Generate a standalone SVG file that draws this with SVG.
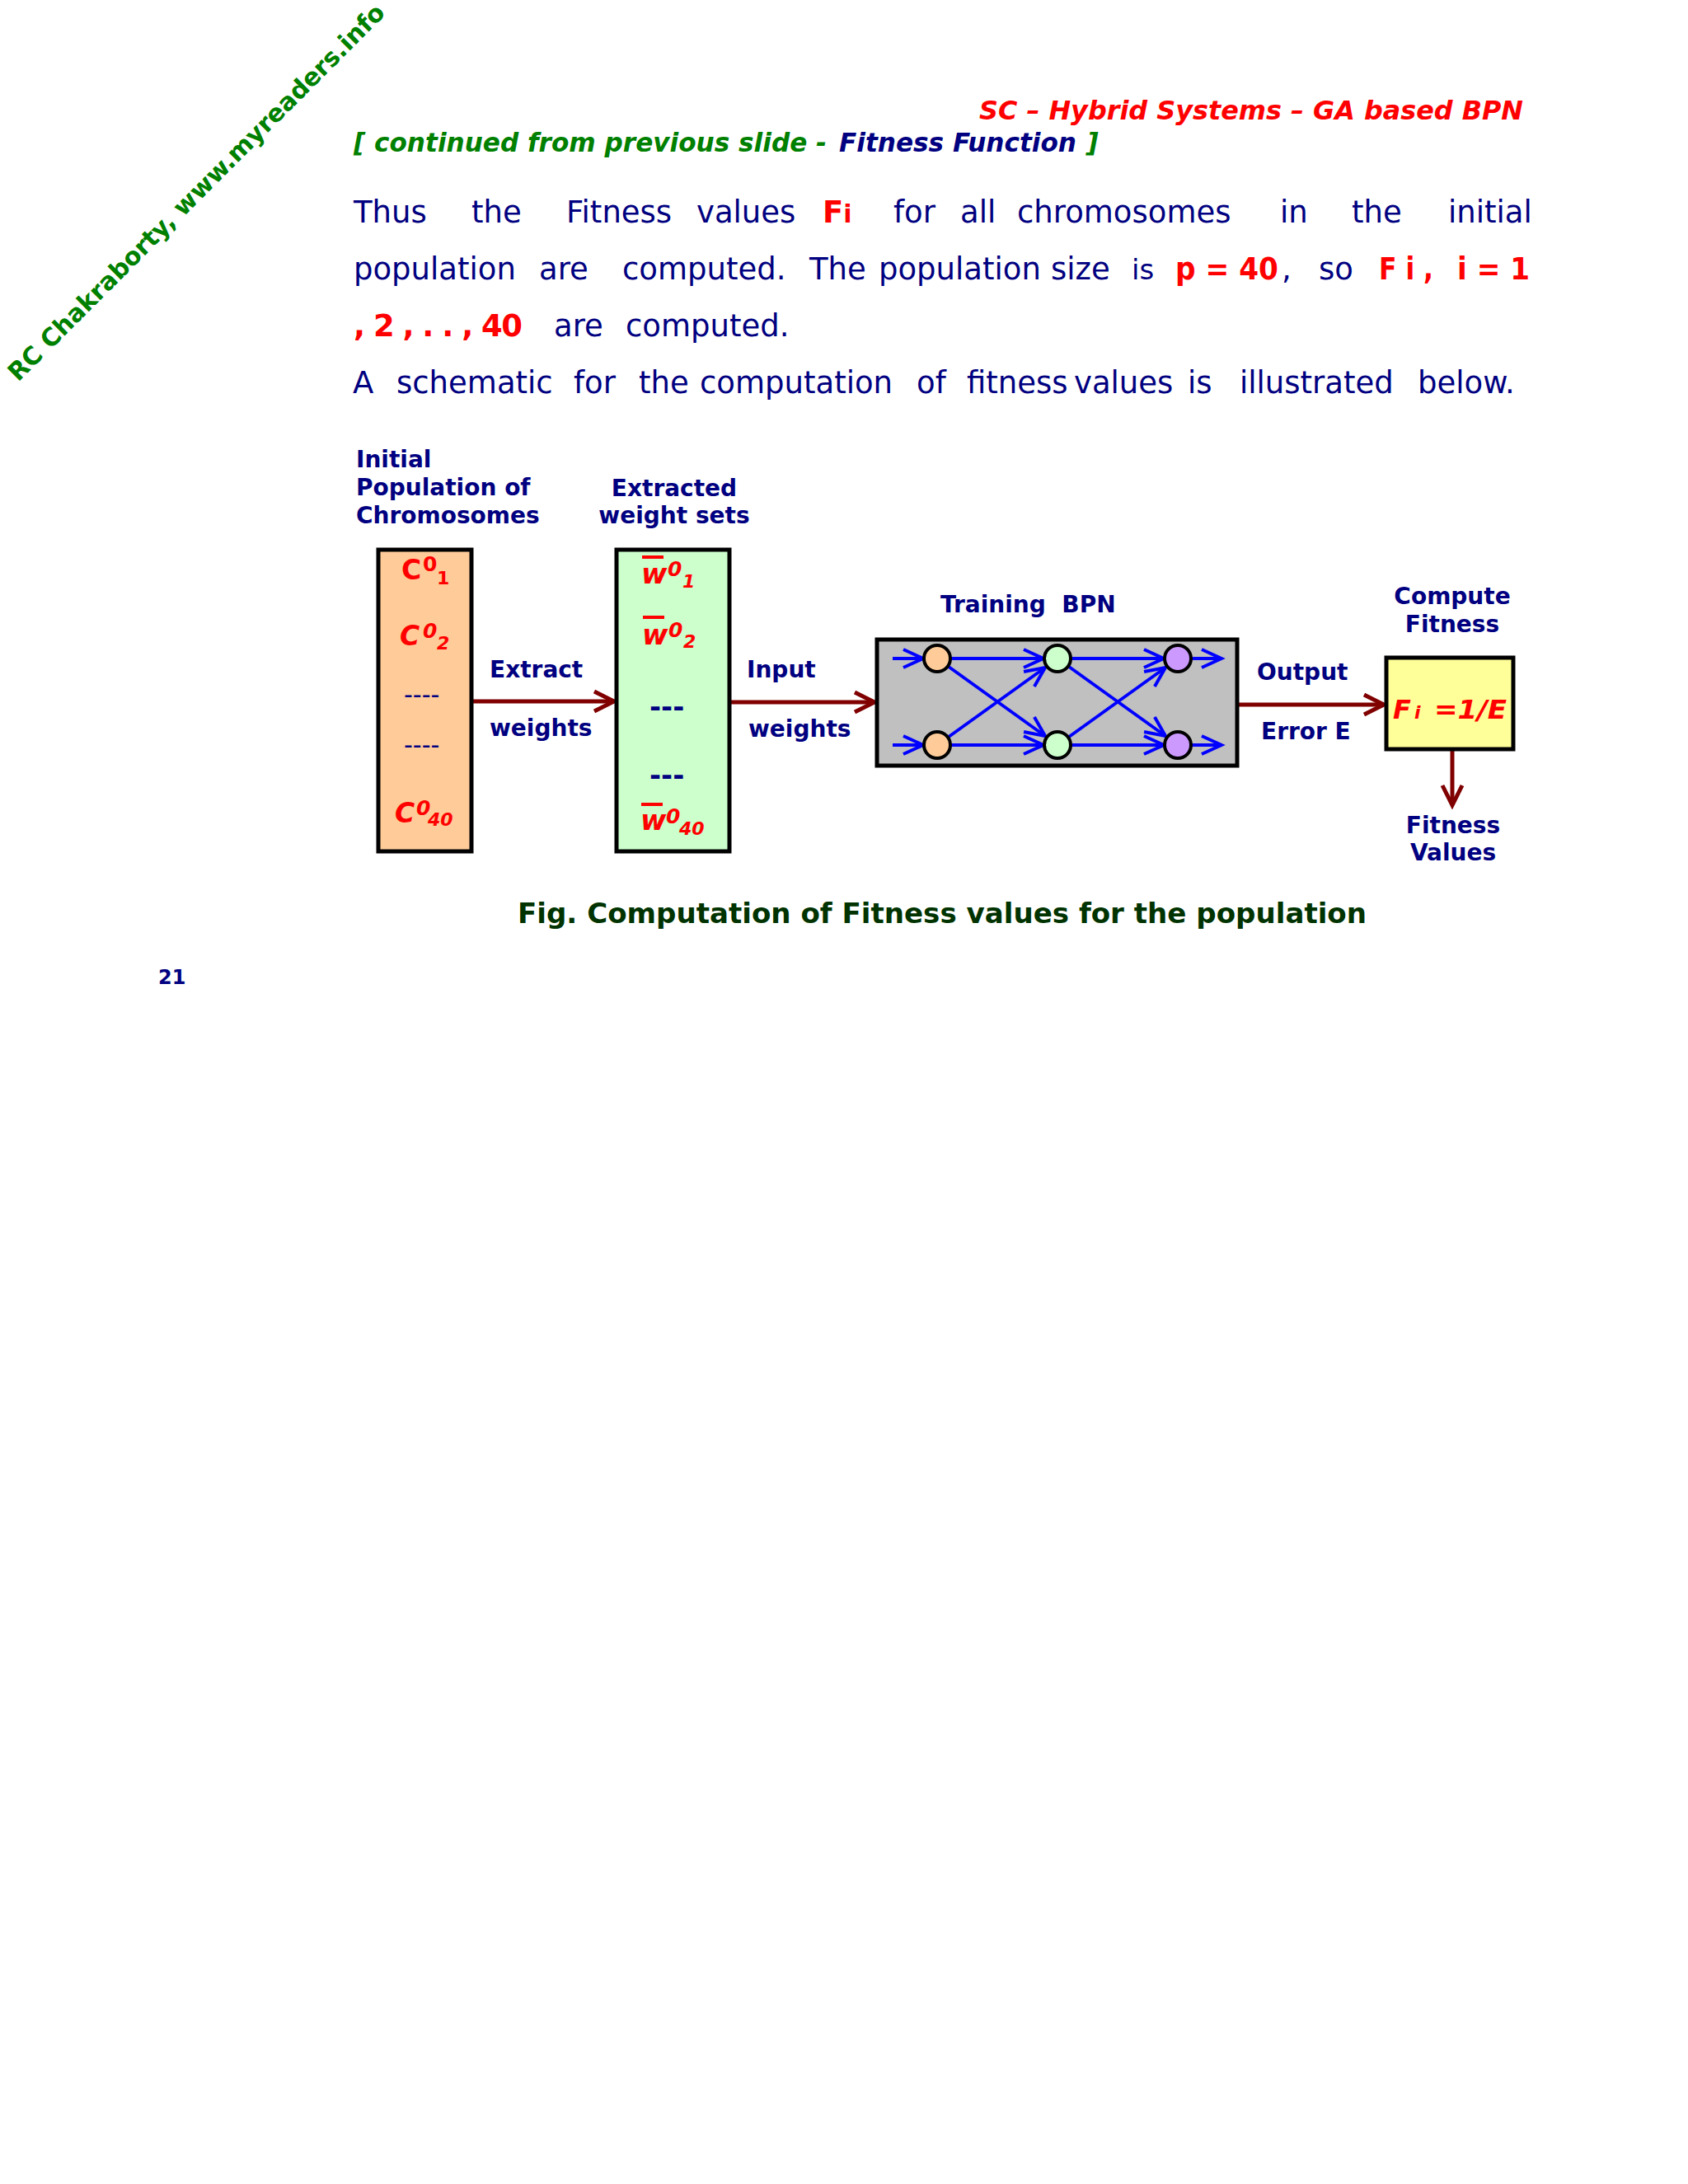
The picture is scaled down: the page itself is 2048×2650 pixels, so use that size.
<svg xmlns="http://www.w3.org/2000/svg" width="2048" height="2650" viewBox="0 0 2048 2650">
<defs>
<style>
text{font-family:"DejaVu Sans","Verdana","Liberation Sans",sans-serif}
.nv{fill:#000080}
.rd{fill:#FF0000}
.gr{fill:#008000}
.b{font-weight:bold}
.it{font-style:italic}
.body{font-size:37px;fill:#000080}
.lbl{font-size:28px;font-weight:bold;fill:#000080}
.sym{font-weight:bold;fill:#FF0000}
.box{stroke:#000;stroke-width:5}
.node{stroke:#000;stroke-width:4}
.red{stroke:#800000;stroke-width:5;fill:none}
.blue{stroke:#0000FF;stroke-width:4;fill:none}
</style>
<marker id="ar" markerUnits="userSpaceOnUse" markerWidth="32" markerHeight="32" viewBox="0 0 32 32" refX="27" refY="16" orient="auto">
<path d="M3,4 L27,16 L3,28" fill="none" stroke="#800000" stroke-width="5"/>
</marker>
<marker id="ab" markerUnits="userSpaceOnUse" markerWidth="32" markerHeight="32" viewBox="0 0 32 32" refX="27" refY="16" orient="auto">
<path d="M3,5 L27,16 L3,27" fill="none" stroke="#0000FF" stroke-width="4"/>
</marker>
</defs>
<rect width="2048" height="2650" fill="#fff"/>

<g id="watermark">
<text x="0" y="0" transform="translate(22,464) rotate(-45)" class="gr b" font-size="30" textLength="632" lengthAdjust="spacingAndGlyphs">RC Chakraborty, www.myreaders.info</text>
</g>

<g id="header">
<text x="1848" y="145" text-anchor="end" class="rd b it" font-size="32" textLength="660" lengthAdjust="spacingAndGlyphs">SC – Hybrid Systems – GA based BPN</text>
<text x="429" y="184" class="gr b it" font-size="32" textLength="574" lengthAdjust="spacingAndGlyphs">[ continued from previous slide -</text>
<text x="1018" y="184" class="nv b it" font-size="32" textLength="288" lengthAdjust="spacingAndGlyphs">Fitness Function</text>
<text x="1318" y="184" class="gr b it" font-size="32">]</text>
</g>

<g id="paragraph" class="body">
<text y="270"><tspan x="429">Thus</tspan><tspan x="572">the</tspan><tspan x="687">Fitness</tspan><tspan x="845">values</tspan><tspan x="998" class="sym">F</tspan><tspan class="sym" font-size="30">i</tspan><tspan x="1084">for</tspan><tspan x="1165">all</tspan><tspan x="1234">chromosomes</tspan><tspan x="1553">in</tspan><tspan x="1640">the</tspan><tspan x="1757">initial</tspan></text>
<text y="339"><tspan x="429">population</tspan><tspan x="654">are</tspan><tspan x="755">computed.</tspan><tspan x="982">The</tspan><tspan x="1066">population</tspan><tspan x="1275">size</tspan><tspan x="1373" font-size="34">is</tspan><tspan x="1426" class="sym" textLength="125" lengthAdjust="spacingAndGlyphs">p = 40</tspan><tspan x="1555">,</tspan><tspan x="1600">so</tspan><tspan x="1673" class="sym" textLength="66" lengthAdjust="spacingAndGlyphs">F i ,</tspan><tspan x="1768" class="sym" textLength="88" lengthAdjust="spacingAndGlyphs">i = 1</tspan></text>
<text y="408"><tspan x="429" class="sym" textLength="205" lengthAdjust="spacing">, 2 , . . , 40</tspan><tspan x="672">are</tspan><tspan x="759">computed.</tspan></text>
<text y="477"><tspan x="428">A</tspan><tspan x="481">schematic</tspan><tspan x="696">for</tspan><tspan x="775">the</tspan><tspan x="849">computation</tspan><tspan x="1112">of</tspan><tspan x="1173">fitness</tspan><tspan x="1303">values</tspan><tspan x="1441">is</tspan><tspan x="1504">illustrated</tspan><tspan x="1720">below.</tspan></text>
</g>

<g id="connectors">
<line x1="574" y1="851" x2="745" y2="851" class="red" marker-end="url(#ar)"/>
<line x1="887" y1="852" x2="1061" y2="852" class="red" marker-end="url(#ar)"/>
<line x1="1503" y1="855" x2="1679" y2="855" class="red" marker-end="url(#ar)"/>
<line x1="1762" y1="911" x2="1762" y2="977" class="red" marker-end="url(#ar)"/>
</g>

<g id="population">
<text x="432" y="567" class="lbl">Initial</text>
<text x="432" y="601" class="lbl">Population of</text>
<text x="432" y="635" class="lbl">Chromosomes</text>
<rect x="459" y="667" width="113" height="366" fill="#FFCC99" class="box"/>
<text x="487" y="703" class="sym" font-size="33">C</text>
<text x="513" y="693" class="sym" font-size="25">0</text>
<text x="530" y="709" class="sym" font-size="22">1</text>
<text x="485" y="783" class="sym it" font-size="33">C</text>
<text x="513" y="774" class="sym it" font-size="25">0</text>
<text x="530" y="788" class="sym it" font-size="22">2</text>
<text x="490" y="853" class="nv" font-size="30">----</text>
<text x="490" y="914" class="nv" font-size="30">----</text>
<text x="479" y="998" class="sym it" font-size="33">C</text>
<text x="505" y="989" class="sym it" font-size="25">0</text>
<text x="519" y="1002" class="sym it" font-size="22">40</text>
</g>

<g id="weights">
<text x="818" y="602" class="lbl" text-anchor="middle">Extracted</text>
<text x="818" y="635" class="lbl" text-anchor="middle">weight sets</text>
<rect x="748" y="667" width="137" height="366" fill="#CCFFCC" class="box"/>
<line x1="779" y1="676" x2="805" y2="676" stroke="#FF0000" stroke-width="4"/>
<text x="778" y="708" class="sym it" font-size="34">w</text>
<text x="810" y="699" class="sym it" font-size="25">0</text>
<text x="828" y="713" class="sym it" font-size="22">1</text>
<line x1="780" y1="749" x2="806" y2="749" stroke="#FF0000" stroke-width="4"/>
<text x="779" y="782" class="sym it" font-size="34">w</text>
<text x="811" y="773" class="sym it" font-size="25">0</text>
<text x="829" y="786" class="sym it" font-size="22">2</text>
<text x="788" y="869" class="nv b" font-size="34">---</text>
<text x="788" y="952" class="nv b" font-size="34">---</text>
<line x1="778" y1="976" x2="804" y2="976" stroke="#FF0000" stroke-width="4"/>
<text x="777" y="1007" class="sym it" font-size="34">w</text>
<text x="808" y="999" class="sym it" font-size="25">0</text>
<text x="824" y="1013" class="sym it" font-size="22">40</text>
</g>

<g id="edge-labels">
<text x="594" y="822" class="lbl">Extract</text>
<text x="594" y="893" class="lbl">weights</text>
<text x="906" y="822" class="lbl">Input</text>
<text x="908" y="894" class="lbl">weights</text>
<text x="1525" y="825" class="lbl">Output</text>
<text x="1530" y="897" class="lbl">Error E</text>
</g>

<g id="bpn">
<text x="1141" y="743" class="lbl" xml:space="preserve">Training  BPN</text>
<rect x="1064" y="776" width="437" height="153" fill="#C0C0C0" class="box"/>
<g id="bpn-links">
<line x1="1083" y1="799" x2="1120" y2="799" class="blue" marker-end="url(#ab)"/>
<line x1="1083" y1="904" x2="1120" y2="904" class="blue" marker-end="url(#ab)"/>
<line x1="1154" y1="799" x2="1266" y2="799" class="blue" marker-end="url(#ab)"/>
<line x1="1154" y1="904" x2="1266" y2="904" class="blue" marker-end="url(#ab)"/>
<line x1="1151" y1="809" x2="1268" y2="893" class="blue" marker-end="url(#ab)"/>
<line x1="1151" y1="894" x2="1268" y2="810" class="blue" marker-end="url(#ab)"/>
<line x1="1300" y1="799" x2="1412" y2="799" class="blue" marker-end="url(#ab)"/>
<line x1="1300" y1="904" x2="1412" y2="904" class="blue" marker-end="url(#ab)"/>
<line x1="1297" y1="809" x2="1414" y2="893" class="blue" marker-end="url(#ab)"/>
<line x1="1297" y1="894" x2="1414" y2="810" class="blue" marker-end="url(#ab)"/>
<line x1="1446" y1="799" x2="1482" y2="799" class="blue" marker-end="url(#ab)"/>
<line x1="1446" y1="904" x2="1482" y2="904" class="blue" marker-end="url(#ab)"/>
</g>
<ellipse id="in1" cx="1137" cy="799" rx="16" ry="16" fill="#FFCC99" class="node"/>
<ellipse id="in2" cx="1137" cy="904" rx="16" ry="16" fill="#FFCC99" class="node"/>
<ellipse id="h1" cx="1283" cy="799" rx="16" ry="16" fill="#CCFFCC" class="node"/>
<ellipse id="h2" cx="1283" cy="904" rx="16" ry="16" fill="#CCFFCC" class="node"/>
<ellipse id="o1" cx="1429" cy="799" rx="16" ry="16" fill="#CC99FF" class="node"/>
<ellipse id="o2" cx="1429" cy="904" rx="16" ry="16" fill="#CC99FF" class="node"/>
</g>

<g id="fitness">
<text x="1762" y="733" class="lbl" text-anchor="middle">Compute</text>
<text x="1762" y="767" class="lbl" text-anchor="middle">Fitness</text>
<rect x="1682" y="798" width="154" height="111" fill="#FFFF99" class="box"/>
<text x="1690" y="872" class="sym it" font-size="32">F</text>
<text x="1716" y="872" class="sym it" font-size="22">i</text>
<text x="1740" y="872" class="sym it" font-size="32" textLength="88" lengthAdjust="spacingAndGlyphs">=1/E</text>
</g>

<g id="fitness-values">
<text x="1763" y="1011" class="lbl" text-anchor="middle">Fitness</text>
<text x="1763" y="1044" class="lbl" text-anchor="middle">Values</text>
</g>

<g id="caption">
<text x="628" y="1120" class="b" font-size="34" fill="#003300" textLength="1030" lengthAdjust="spacingAndGlyphs">Fig. Computation of Fitness values for the population</text>
<text x="192" y="1194" class="nv b" font-size="24">21</text>
</g>
</svg>
